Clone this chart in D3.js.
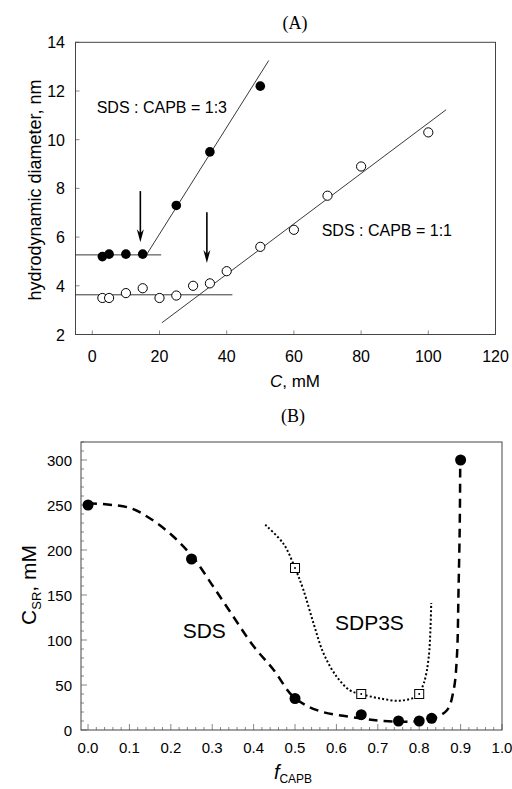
<!DOCTYPE html>
<html>
<head>
<meta charset="utf-8">
<script src="https://cdn.jsdelivr.net/npm/d3@7"></script>
<style>
  body { margin: 0; background: #fff; }
  text { font-family: "Liberation Sans", Arial, sans-serif; fill: #000; }
  .title { font-family: "Liberation Serif", "Times New Roman", serif; font-size: 18px; }
</style>
</head>
<body>
<div id="chart"></div>
<script>
const width = 512;
const height = 789;

// ---- panel A data ----
const concFilled = [3, 5, 10, 15, 25, 35, 50];
const diamFilled = [5.2, 5.3, 5.3, 5.3, 7.3, 9.5, 12.2];
const concOpen = [3, 5, 10, 15, 20, 25, 30, 35, 40, 50, 60, 70, 80, 100];
const diamOpen = [3.5, 3.5, 3.7, 3.9, 3.5, 3.6, 4.0, 4.1, 4.6, 5.6, 6.3, 7.7, 8.9, 10.3];
// straight fit lines [C, d]
const fitLinesA = [
    [[-5, 5.27], [20.5, 5.27]],
    [[16.1, 5.27], [52.5, 13.25]],
    [[-5, 3.63], [41.7, 3.63]],
    [[20.7, 2.48], [105.3, 11.23]]
];
// arrows: x, y start, y tip
const arrowsA = [[14.3, 7.89, 5.79], [34.1, 7.02, 4.94]];
const xTicksA = [0, 20, 40, 60, 80, 100, 120];
const yTicksA = [2, 4, 6, 8, 10, 12, 14];

// ---- panel B data ----
const fSDS = [0.0, 0.25, 0.5, 0.66, 0.75, 0.8, 0.83, 0.9];
const cSDS = [250, 190, 35, 17, 10, 10, 13, 300];
const fSDP3S = [0.5, 0.66, 0.8];
const cSDP3S = [180, 40, 40];
// guide curves
const curveSDS_f = [0, 0.099, 0.15, 0.206, 0.255, 0.303, 0.351, 0.4, 0.448, 0.496, 0.553, 0.658, 0.714, 0.77, 0.827, 0.867, 0.883, 0.891, 0.895, 0.898, 0.899];
const curveSDS_c = [252, 247, 235, 215, 191, 159, 126, 93, 67, 37, 22, 13, 10, 9.3, 12, 22, 44, 81, 156, 230, 292];
const curveSDP3S_f = [0.428, 0.472, 0.5, 0.52, 0.545, 0.569, 0.601, 0.633, 0.658, 0.706, 0.754, 0.795, 0.811, 0.823, 0.829];
const curveSDP3S_c = [228, 207, 180, 156, 118, 85, 59, 44, 40, 35, 32.6, 38, 52, 81, 141];
const xTicksB = [0, 0.1, 0.2, 0.3, 0.4, 0.5, 0.6, 0.7, 0.8, 0.9, 1.0];
const yTicksB = [0, 50, 100, 150, 200, 250, 300];

const svg = d3.select("#chart")
    .append("svg")
    .attr("width", width)
    .attr("height", height);

svg.append("rect").attr("width", width).attr("height", height).attr("fill", "#fff");

// ================= Panel A =================
const xA = d3.scaleLinear().domain([-5, 120]).range([75.5, 495.5]);
const yA = d3.scaleLinear().domain([2, 14]).range([334.5, 42.3]);
const gA = svg.append("g");

gA.append("text").attr("class", "title")
    .attr("x", 295).attr("y", 29).attr("text-anchor", "middle").text("(A)");

// ticks inside
gA.append("g").selectAll("line").data(xTicksA).join("line")
    .attr("x1", d => xA(d)).attr("x2", d => xA(d))
    .attr("y1", yA(2)).attr("y2", yA(2) - 4)
    .attr("stroke", "#888");
gA.append("g").selectAll("line").data(yTicksA).join("line")
    .attr("x1", xA(-5)).attr("x2", xA(-5) + 4)
    .attr("y1", d => yA(d)).attr("y2", d => yA(d))
    .attr("stroke", "#888");

gA.append("rect")
    .attr("x", xA(-5)).attr("y", yA(14))
    .attr("width", xA(120) - xA(-5)).attr("height", yA(2) - yA(14))
    .attr("fill", "none").attr("stroke", "#444");

gA.append("g").selectAll("text").data(xTicksA).join("text")
    .attr("x", d => xA(d)).attr("y", 361.5)
    .attr("text-anchor", "middle").attr("font-size", 16)
    .text(d => d);
gA.append("g").selectAll("text").data(yTicksA).join("text")
    .attr("x", 65).attr("y", d => yA(d) + 6)
    .attr("text-anchor", "end").attr("font-size", 16)
    .text(d => d);

// axis labels
const xlabA = gA.append("text").attr("x", 295).attr("y", 387)
    .attr("text-anchor", "middle").attr("font-size", 17);
xlabA.append("tspan").attr("font-style", "italic").text("C");
xlabA.append("tspan").text(", mM");

gA.append("text")
    .attr("transform", "translate(41,190) rotate(-90)")
    .attr("text-anchor", "middle").attr("font-size", 18)
    .text("hydrodynamic diameter, nm");

// fit lines
gA.append("g").selectAll("line").data(fitLinesA).join("line")
    .attr("x1", d => xA(d[0][0])).attr("y1", d => yA(d[0][1]))
    .attr("x2", d => xA(d[1][0])).attr("y2", d => yA(d[1][1]))
    .attr("stroke", "#222").attr("stroke-width", 0.9);

// arrows
arrowsA.forEach(a => {
    const x = xA(a[0]), y0 = yA(a[1]), y1 = yA(a[2]);
    gA.append("line").attr("x1", x).attr("x2", x)
        .attr("y1", y0).attr("y2", y1 - 6)
        .attr("stroke", "#000").attr("stroke-width", 1.6);
    gA.append("path")
        .attr("d", `M${x},${y1} L${x - 3.5},${y1 - 13} L${x},${y1 - 9} L${x + 3.5},${y1 - 13} Z`)
        .attr("fill", "#000");
});

// points
gA.append("g").selectAll("circle").data(concOpen).join("circle")
    .attr("cx", d => xA(d)).attr("cy", (d, i) => yA(diamOpen[i]))
    .attr("r", 4.6).attr("fill", "#fff").attr("stroke", "#000").attr("stroke-width", 1);
gA.append("g").selectAll("circle").data(concFilled).join("circle")
    .attr("cx", d => xA(d)).attr("cy", (d, i) => yA(diamFilled[i]))
    .attr("r", 4.8).attr("fill", "#000");

gA.append("text").attr("x", 96.7).attr("y", 113).attr("font-size", 16).text("SDS : CAPB = 1:3");
gA.append("text").attr("x", 321.7).attr("y", 235.7).attr("font-size", 16).text("SDS : CAPB = 1:1");

// ================= Panel B =================
const xB = d3.scaleLinear().domain([-0.017, 1.0]).range([81, 502]);
const yB = d3.scaleLinear().domain([0, 320]).range([730, 442]);
const gB = svg.append("g");

gB.append("text").attr("class", "title")
    .attr("x", 293).attr("y", 422).attr("text-anchor", "middle").text("(B)");

// minor + major ticks
const xMinorB = d3.range(0, 51).map(i => i * 0.02);
gB.append("g").selectAll("line").data(xMinorB).join("line")
    .attr("x1", d => xB(d)).attr("x2", d => xB(d))
    .attr("y1", yB(0)).attr("y2", (d, i) => yB(0) - (i % 5 === 0 ? 6 : 3))
    .attr("stroke", "#888");
const yMinorB = d3.range(0, 33).map(i => i * 10);
gB.append("g").selectAll("line").data(yMinorB).join("line")
    .attr("x1", xB(-0.017)).attr("x2", (d, i) => xB(-0.017) + (i % 5 === 0 ? 6 : 3))
    .attr("y1", d => yB(d)).attr("y2", d => yB(d))
    .attr("stroke", "#888");

gB.append("rect")
    .attr("x", xB(-0.017)).attr("y", yB(320))
    .attr("width", xB(1.0) - xB(-0.017)).attr("height", yB(0) - yB(320))
    .attr("fill", "none").attr("stroke", "#444");

gB.append("g").selectAll("text").data(xTicksB).join("text")
    .attr("x", d => xB(d)).attr("y", 753)
    .attr("text-anchor", "middle").attr("font-size", 15)
    .text(d => d.toFixed(1));
gB.append("g").selectAll("text").data(yTicksB).join("text")
    .attr("x", 72).attr("y", d => yB(d) + 5.5)
    .attr("text-anchor", "end").attr("font-size", 15)
    .text(d => d);

// axis labels
const xlabB = gB.append("text").attr("x", 293).attr("y", 779)
    .attr("text-anchor", "middle").attr("font-size", 20);
xlabB.append("tspan").attr("font-style", "italic").text("f");
xlabB.append("tspan").attr("font-size", 12).attr("dy", 4).text("CAPB");

const ylabB = gB.append("text")
    .attr("transform", "translate(36,585) rotate(-90)")
    .attr("text-anchor", "middle").attr("font-size", 21);
ylabB.append("tspan").text("C");
ylabB.append("tspan").attr("font-size", 13).attr("dy", 5).text("SR");
ylabB.append("tspan").attr("dy", -5).text(", mM");

// guide curves
const lineB = d3.line()
    .x(d => xB(d[0])).y(d => yB(d[1]))
    .curve(d3.curveCatmullRom.alpha(0.5));

gB.append("path")
    .datum(curveSDS_f.map((f, i) => [f, curveSDS_c[i]]))
    .attr("d", lineB)
    .attr("fill", "none").attr("stroke", "#000")
    .attr("stroke-width", 2.5).attr("stroke-dasharray", "9,6");

gB.append("path")
    .datum(curveSDP3S_f.map((f, i) => [f, curveSDP3S_c[i]]))
    .attr("d", lineB)
    .attr("fill", "none").attr("stroke", "#000")
    .attr("stroke-width", 2).attr("stroke-dasharray", "2,2.2");

// points
gB.append("g").selectAll("circle").data(fSDS).join("circle")
    .attr("cx", d => xB(d)).attr("cy", (d, i) => yB(cSDS[i]))
    .attr("r", 5.5).attr("fill", "#000");

const sq = gB.append("g").selectAll("g").data(fSDP3S).join("g")
    .attr("transform", (d, i) => `translate(${xB(d)},${yB(cSDP3S[i])})`);
sq.append("rect").attr("x", -4.5).attr("y", -4.5).attr("width", 9).attr("height", 9)
    .attr("fill", "#fff").attr("stroke", "#000").attr("stroke-width", 1);
sq.append("circle").attr("r", 1).attr("fill", "#000");

gB.append("text").attr("x", 182.7).attr("y", 638).attr("font-size", 21).text("SDS");
gB.append("text").attr("x", 335).attr("y", 630).attr("font-size", 21).text("SDP3S");
</script>
</body>
</html>
